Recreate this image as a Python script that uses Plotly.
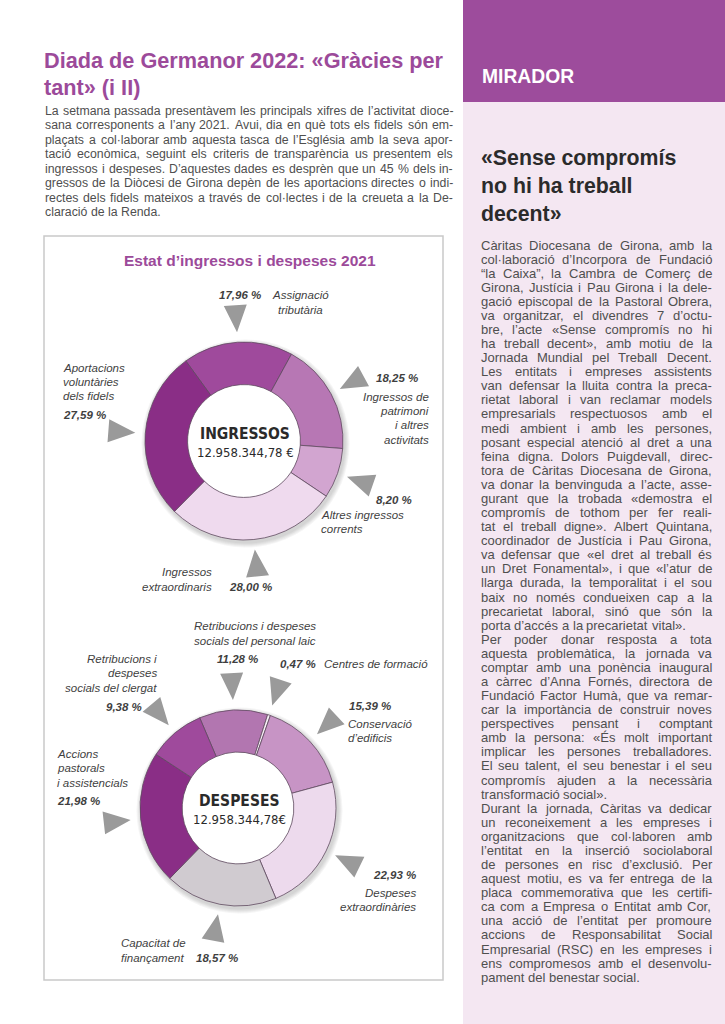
import math
import plotly.graph_objects as go

PAGE_W, PAGE_H = 725, 1024

# ---------------- data ----------------
ing_labels = ["Assignació tributària", "Ingressos de patrimoni i altres activitats",
              "Altres ingressos corrents", "Ingressos extraordinaris",
              "Aportacions voluntàries dels fidels"]
ing_values = [17.96, 18.25, 8.20, 28.00, 27.59]
ing_colors = ["#9f4a9c", "#b777b4", "#d2a5d0", "#efdaee", "#8a2e86"]
ing_total = "12.958.344,78 €"

desp_labels = ["Retribucions i despeses socials del personal laic", "Centres de formació",
               "Conservació d’edificis", "Despeses extraordinàries", "Capacitat de finançament",
               "Accions pastorals i assistencials", "Retribucions i despeses socials del clergat"]
desp_values = [11.28, 0.47, 15.39, 22.93, 18.57, 21.98, 9.38]
desp_colors = ["#b276b0", "#f7eff6", "#c794c5", "#eddaed", "#d0cbd0", "#8a2e86", "#9f4a9c"]
desp_total = "12.958.344,78€"

title_lines = ["Diada de Germanor 2022: «Gràcies per", "tant» (i II)"]
intro_lines = [
    "La setmana passada presentàvem les principals xifres de l’activitat dioce-",
    "sana corresponents a l’any 2021. Avui, dia en què tots els fidels són em-",
    "plaçats a col·laborar amb aquesta tasca de l’Església amb la seva apor-",
    "tació econòmica, seguint els criteris de transparència us presentem els",
    "ingressos i despeses. D’aquestes dades es desprèn que un 45\u00a0% dels in-",
    "gressos de la Diòcesi de Girona depèn de les aportacions directes o indi-",
    "rectes dels fidels mateixos a través de col·lectes i de la creueta a la De-",
    "claració de la Renda.",
]
intro_last = [7]

chart_title = "Estat d’ingressos i despeses 2021"

side_header = "MIRADOR"
side_title = ["«Sense compromís", "no hi ha treball", "decent»"]
side_lines = [
    "Càritas Diocesana de Girona, amb la",
    "col·laboració d’Incorpora de Fundació",
    "“la Caixa”, la Cambra de Comerç de",
    "Girona, Justícia i Pau Girona i la dele-",
    "gació episcopal de la Pastoral Obrera,",
    "va organitzar, el divendres 7 d’octu-",
    "bre, l’acte «Sense compromís no hi",
    "ha treball decent», amb motiu de la",
    "Jornada Mundial pel Treball Decent.",
    "Les entitats i empreses assistents",
    "van defensar la lluita contra la preca-",
    "rietat laboral i van reclamar models",
    "empresarials respectuosos amb el",
    "medi ambient i amb les persones,",
    "posant especial atenció al dret a una",
    "feina digna.  Dolors Puigdevall, direc-",
    "tora de Càritas Diocesana de Girona,",
    "va donar la benvinguda a l’acte, asse-",
    "gurant que la trobada «demostra el",
    "compromís de tothom per fer reali-",
    "tat el treball digne». Albert Quintana,",
    "coordinador de Justícia i Pau Girona,",
    "va defensar que «el dret al treball és",
    "un Dret Fonamental», i que «l’atur de",
    "llarga durada, la temporalitat i el sou",
    "baix no només condueixen cap a la",
    "precarietat laboral, sinó que són la",
    "porta d’accés a la precarietat vital».",
    "Per poder donar resposta a tota",
    "aquesta problemàtica, la jornada va",
    "comptar amb una ponència inaugural",
    "a càrrec d’Anna Fornés, directora de",
    "Fundació Factor Humà, que va remar-",
    "car la importància de construir noves",
    "perspectives pensant i comptant",
    "amb la persona: «És molt important",
    "implicar les persones treballadores.",
    "El seu talent, el seu benestar i el seu",
    "compromís ajuden a la necessària",
    "transformació social».",
    "Durant la jornada, Càritas va dedicar",
    "un reconeixement a les empreses i",
    "organitzacions que col·laboren amb",
    "l’entitat en la inserció sociolaboral",
    "de persones en risc d’exclusió. Per",
    "aquest motiu, es va fer entrega de la",
    "placa commemorativa que les certifi-",
    "ca com a Empresa o Entitat amb Cor,",
    "una acció de l’entitat per promoure",
    "accions de Responsabilitat Social",
    "Empresarial (RSC) en les empreses i",
    "ens compromesos amb el desenvolu-",
    "pament del benestar social.",
]
side_last = [27, 39, 52]

# ---------------- styling ----------------
PURPLE = "#9c4a9a"
SANS = "Liberation Sans, Arial, sans-serif"
NARROW = "Liberation Sans Narrow, DejaVu Sans Condensed, Liberation Sans, sans-serif"
TXT = "#4f4f4f"
LBL = "#3f3f3f"

# Arial / Liberation Sans advance widths (1/1000 em)
AW = {' ': 278, '\u00a0': 278, '!': 278, '"': 355, '%': 889, "'": 191, '(': 333, ')': 333,
      ',': 278, '-': 333, '.': 278, ':': 278, ';': 278, '?': 556,
      'A': 667, 'B': 667, 'C': 722, 'D': 722, 'E': 667, 'F': 611, 'G': 778, 'H': 722, 'I': 278,
      'J': 500, 'K': 667, 'L': 556, 'M': 833, 'N': 722, 'O': 778, 'P': 667, 'Q': 778, 'R': 722,
      'S': 667, 'T': 611, 'U': 722, 'V': 667, 'W': 944, 'X': 667, 'Y': 667, 'Z': 611,
      'a': 556, 'b': 556, 'c': 500, 'd': 556, 'e': 556, 'f': 278, 'g': 556, 'h': 556, 'i': 222,
      'j': 222, 'k': 500, 'l': 222, 'm': 833, 'n': 556, 'o': 556, 'p': 556, 'q': 556, 'r': 333,
      's': 500, 't': 278, 'u': 556, 'v': 500, 'w': 722, 'x': 500, 'y': 500, 'z': 500,
      'à': 556, 'á': 556, 'è': 556, 'é': 556, 'í': 278, 'ï': 278, 'ò': 556, 'ó': 556, 'ú': 556,
      'ü': 556, 'ç': 500, 'É': 667, 'È': 667, '«': 556, '»': 556, '·': 278, '’': 222, '‘': 222,
      '“': 333, '”': 333, '€': 556}
for d in "0123456789":
    AW[d] = 556


def em(s):
    return sum(AW.get(ch, 556) for ch in s) / 1000.0


def fit_size(lines, last, width, target):
    fs = target
    for i, line in enumerate(lines):
        if i in last:
            continue
        words = line.split()
        need = sum(em(w) for w in words) + 0.18 * (len(words) - 1)
        fs = min(fs, width / need)
    return fs


def justified(lines, last, x0, x1, y0, dy, fs, color):
    anns = []
    for i, line in enumerate(lines):
        words = line.split()
        y = y0 + i * dy
        widths = [em(w) * fs for w in words]
        if i in last or len(words) < 2:
            gap = em(' ') * fs
        else:
            gap = (x1 - x0 - sum(widths)) / (len(words) - 1)
        x = x0
        for w, wd in zip(words, widths):
            anns.append(dict(x=x, y=y, xref="x", yref="y", text=w, showarrow=False,
                             xanchor="left", yanchor="middle", borderpad=0,
                             font=dict(family=SANS, size=fs, color=color)))
            x += wd + gap
    return anns


def pct(v):
    return f"{v:.2f}".replace(".", ",") + " %"


def text(x, y, s, size=11.5, color=LBL, anchor="left", bold=False, italic=True, family=SANS):
    if italic:
        s = f"<i>{s}</i>"
    if bold:
        s = f"<b>{s}</b>"
    return dict(x=x, y=y, xref="x", yref="y", text=s, showarrow=False, xanchor=anchor,
                yanchor="middle", borderpad=0, font=dict(family=family, size=size, color=color))


def lines_at(x, ys, strs, anchor="left"):
    return [text(x, y, s, anchor=anchor) for y, s in zip(ys, strs)]


def domain(cx, cy, r):
    return dict(x=[(cx - r) / PAGE_W, (cx + r) / PAGE_W],
                y=[1 - (cy + r) / PAGE_H, 1 - (cy - r) / PAGE_H])


def triangles(values, rot, cx, cy, r):
    xs, ys = [], []
    tot = sum(values)
    cum = 0.0
    for v in values:
        th = math.radians(rot + (cum + v / 2) / tot * 360)
        cum += v
        ux, uy = math.sin(th), -math.cos(th)
        vx, vy = math.cos(th), math.sin(th)
        ax, ay = cx + ux * (r + 10), cy + uy * (r + 10)
        bx, by = cx + ux * (r + 37), cy + uy * (r + 37)
        xs += [ax, bx + vx * 11.5, bx - vx * 11.5, ax, None]
        ys += [ay, by + vy * 11.5, by - vy * 11.5, ay, None]
    return xs, ys


# donut geometry
C1 = (244, 441, 99)
C2 = (238, 808, 98)
ROT1, ROT2 = -36, -23
HOLE = 0.57

fig = go.Figure()

fig.add_trace(go.Pie(values=ing_values, labels=ing_labels, sort=False, direction="clockwise",
                     rotation=ROT1, hole=HOLE, textinfo="none", showlegend=False,
                     marker=dict(colors=ing_colors, line=dict(color="#5f4a5f", width=0.8)),
                     domain=domain(*C1)))
fig.add_trace(go.Pie(values=desp_values, labels=desp_labels, sort=False, direction="clockwise",
                     rotation=ROT2, hole=HOLE, textinfo="none", showlegend=False,
                     marker=dict(colors=desp_colors, line=dict(color="#5f4a5f", width=0.8)),
                     domain=domain(*C2)))

tx1, ty1 = triangles(ing_values, ROT1, *C1)
tx2, ty2 = triangles(desp_values, ROT2, *C2)
fig.add_trace(go.Scatter(x=tx1 + tx2, y=ty1 + ty2, mode="lines", fill="toself",
                         fillcolor="#9a9a9a", line=dict(width=0, color="#9a9a9a"),
                         hoverinfo="skip", showlegend=False))

# ---------------- shapes ----------------
shapes = [
    dict(type="rect", xref="x", yref="y", x0=463, x1=PAGE_W, y0=0, y1=PAGE_H,
         fillcolor="#f4e7f2", line=dict(width=0), layer="below"),
    dict(type="rect", xref="x", yref="y", x0=463, x1=PAGE_W, y0=0, y1=102,
         fillcolor="#9d4c9c", line=dict(width=0), layer="below"),
    dict(type="rect", xref="x", yref="y", x0=44, x1=443, y0=236, y1=980,
         fillcolor="white", line=dict(color="#c9c9c9", width=1.5), layer="below"),
]
for (cx, cy, r) in (C1, C2):
    for k in range(1, 6):
        shapes.append(dict(type="circle", xref="x", yref="y",
                           x0=cx - r - k + 1.5, x1=cx + r + k + 1.5,
                           y0=cy - r - k + 2.5, y1=cy + r + k + 2.5,
                           fillcolor="rgba(40,40,40,0.045)", line=dict(width=0), layer="below"))
    hr = r * HOLE
    shapes.append(dict(type="circle", xref="x", yref="y", x0=cx - hr, x1=cx + hr,
                       y0=cy - hr, y1=cy + hr, fillcolor="white", line=dict(width=0),
                       layer="below"))

# ---------------- annotations ----------------
anns = []
# page title
for i, s in enumerate(title_lines):
    anns.append(dict(x=43, y=60 + i * 27, xref="x", yref="y", text=f"<b>{s}</b>",
                     showarrow=False, xanchor="left", yanchor="middle", borderpad=0,
                     font=dict(family=SANS, size=21.7, color=PURPLE)))
fs_intro = fit_size(intro_lines, intro_last, 452 - 44, 12.3)
anns += justified(intro_lines, intro_last, 44, 452, 111, 14.45, fs_intro, TXT)

# side column
anns.append(dict(x=481, y=76, xref="x", yref="y", text=f"<b>{side_header}</b>", showarrow=False,
                 xanchor="left", yanchor="middle", borderpad=0,
                 font=dict(family=SANS, size=19.3, color="white")))
for i, s in enumerate(side_title):
    anns.append(dict(x=480, y=158 + i * 28, xref="x", yref="y", text=f"<b>{s}</b>",
                     showarrow=False, xanchor="left", yanchor="middle", borderpad=0,
                     font=dict(family=SANS, size=21.3, color="#2b2b2b")))
fs_side = fit_size(side_lines, side_last, 711 - 480, 13.0)
anns += justified(side_lines, side_last, 480, 711, 245, 14.08, fs_side, TXT)

# chart title
anns.append(dict(x=250, y=260, xref="x", yref="y", text=f"<b>{chart_title}</b>", showarrow=False,
                 xanchor="center", yanchor="middle", borderpad=0,
                 font=dict(family=SANS, size=15.5, color=PURPLE)))

# donut centres
for (cx, cy, r), name, tot in ((C1, "INGRESSOS", ing_total), (C2, "DESPESES", desp_total)):
    anns.append(text(cx + 1, cy - 7, name, size=15.5, color="#2a2a2a", anchor="center",
                     bold=True, italic=False, family=NARROW))
    anns.append(text(cx + 1, cy + 11, tot, size=13, color="#2a2a2a", anchor="center",
                     italic=False, family=NARROW))

# ingressos labels
anns.append(text(262, 295, pct(ing_values[0]), bold=True, anchor="right"))
anns += lines_at(300, [295, 310], ["Assignació", "tributària"], anchor="center")
anns.append(text(375, 378, pct(ing_values[1]), bold=True))
anns += lines_at(430, [397, 411, 425, 440], ["Ingressos de", "patrimoni", "i altres", "activitats"],
                 anchor="right")
anns.append(text(413, 500, pct(ing_values[2]), bold=True, anchor="right"))
anns += lines_at(320, [515, 529], ["Altres ingressos", "corrents"])
anns += lines_at(213, [572, 587], ["Ingressos", "extraordinaris"], anchor="right")
anns.append(text(228, 587, pct(ing_values[3]), bold=True))
anns += lines_at(62, [368, 382, 396], ["Aportacions", "voluntàries", "dels fidels"])
anns.append(text(62, 415, pct(ing_values[4]), bold=True))

# despeses labels
anns += lines_at(255, [626, 641], ["Retribucions i despeses", "socials del personal laic"],
                 anchor="center")
anns.append(text(237, 659, pct(desp_values[0]), bold=True, anchor="center"))
anns.append(text(279, 664, pct(desp_values[1]), bold=True))
anns += lines_at(323, [664], ["Centres de formació"])
anns.append(text(348, 706, pct(desp_values[2]), bold=True))
anns += lines_at(347, [724, 738], ["Conservació", "d’edificis"])
anns.append(text(417, 875, pct(desp_values[3]), bold=True, anchor="right"))
anns += lines_at(417, [893, 907], ["Despeses", "extraordinàries"], anchor="right")
anns += lines_at(120, [943, 958], ["Capacitat de", "finançament"])
anns.append(text(195, 958, pct(desp_values[4]), bold=True))
anns += lines_at(56, [754, 768, 783], ["Accions", "pastorals", "i assistencials"])
anns.append(text(56, 801, pct(desp_values[5]), bold=True))
anns += lines_at(158, [659, 673, 688], ["Retribucions i", "despeses", "socials del clergat"],
                 anchor="right")
anns.append(text(143, 707, pct(desp_values[6]), bold=True, anchor="right"))

fig.update_layout(
    width=PAGE_W, height=PAGE_H,
    margin=dict(l=0, r=0, t=0, b=0, pad=0),
    paper_bgcolor="white", plot_bgcolor="rgba(0,0,0,0)",
    xaxis=dict(range=[0, PAGE_W], visible=False, fixedrange=True, domain=[0, 1]),
    yaxis=dict(range=[PAGE_H, 0], visible=False, fixedrange=True, domain=[0, 1]),
    shapes=shapes, annotations=anns, showlegend=False,
)

fig.write_html("out.html", config={"displayModeBar": False},
               post_script="document.body.style.margin='0';document.body.style.overflow='hidden';")
